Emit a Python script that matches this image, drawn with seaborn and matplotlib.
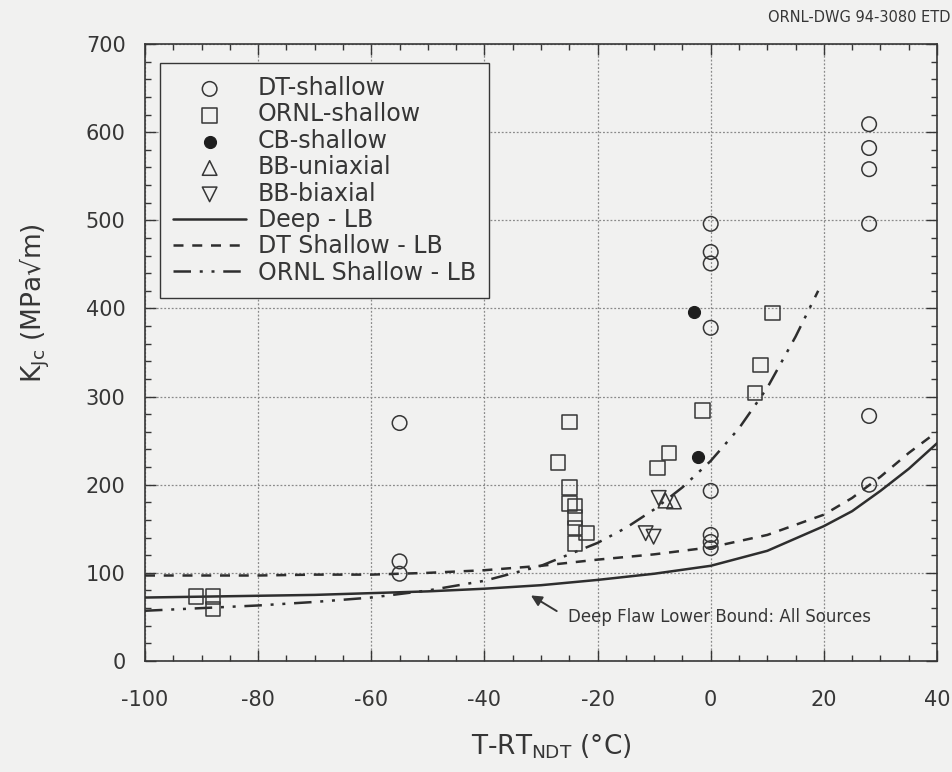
import numpy as np
import pandas as pd
import matplotlib
matplotlib.use("Agg")
import matplotlib.pyplot as plt
from matplotlib.ticker import MultipleLocator
import seaborn as sns

# ---- data: fracture toughness vs. normalized temperature ----
dt_x = [-55, -55, -55, 0, 0, 0, 0, 0, 0, 0, 0, 28, 28, 28, 28, 28, 28]
dt_y = [270, 113, 99, 496, 464, 451, 378, 193, 143, 135, 128, 609, 582, 558, 496, 278, 200]

ornl_x = [-91, -88, -88, -25, -27, -25, -25, -24, -24, -24, -22, -24, -9.4, -7.4, -1.5, 7.8, 8.8, 10.9]
ornl_y = [73, 73, 59, 271, 225, 197, 179, 176, 163, 151, 145, 133, 219, 236, 284, 304, 336, 395]

cb_x = [-3, -2.3]
cb_y = [396, 232]

bbu_x = [-8, -6.5]
bbu_y = [182, 181]

bbb_x = [-9.2, -11.5, -10.1]
bbb_y = [185, 145, 141]

# lower-bound curves
deep_x = [-100, -90, -80, -70, -60, -50, -40, -30, -20, -10, 0, 10, 20, 25, 30, 35, 40]
deep_y = [72, 73, 74, 75, 77, 79, 82, 86, 92, 99, 108, 125, 153, 170, 193, 218, 247]

dtlb_x = [-100, -90, -80, -70, -60, -50, -40, -30, -20, -10, 0, 10, 20, 25, 30, 35, 40]
dtlb_y = [97, 97, 97, 98, 98, 100, 103, 108, 115, 121, 129, 143, 166, 185, 209, 236, 260]

ornllb_x = [-100, -90, -80, -70, -60, -50, -40, -30, -20, -15, -10, -5, 0, 5, 10, 15, 19]
ornllb_y = [57, 60, 63, 67, 72, 80, 91, 108, 134, 151, 172, 197, 227, 264, 310, 368, 420]

x_ticks = [-100, -80, -60, -40, -20, 0, 20, 40]
y_ticks = [0, 100, 200, 300, 400, 500, 600, 700]

# ---- styling ----
sns.set_style("ticks")
bg = "#f1f1f0"
ink = "#363636"
plt.rcParams["font.family"] = ["DejaVu Sans"]
plt.rcParams["mathtext.default"] = "regular"
plt.rcParams["axes.unicode_minus"] = False
plt.rcParams["text.color"] = ink
plt.rcParams["axes.labelcolor"] = ink
plt.rcParams["xtick.color"] = ink
plt.rcParams["ytick.color"] = ink

fig = plt.figure(figsize=(9.53, 7.72), dpi=100, facecolor=bg)
ax = fig.add_axes([145 / 953, 1 - 661 / 772, (937 - 145) / 953, (661 - 44) / 772])
ax.set_facecolor(bg)

mk = dict(ax=ax, s=110, facecolor="none", edgecolor=ink, linewidth=1.1, zorder=4)
sns.scatterplot(x=dt_x, y=dt_y, marker="o", label="DT-shallow", **mk)
sns.scatterplot(x=ornl_x, y=ornl_y, marker="s", label="ORNL-shallow", **mk)
sns.scatterplot(x=cb_x, y=cb_y, marker="o", s=75, color="#1e1e1e", edgecolor="#1e1e1e",
                linewidth=0.8, label="CB-shallow", ax=ax, zorder=4)
sns.scatterplot(x=bbu_x, y=bbu_y, marker="^", label="BB-uniaxial", **mk)
sns.scatterplot(x=bbb_x, y=bbb_y, marker="v", label="BB-biaxial", **mk)

ln = dict(ax=ax, color="#2e2e2e", linewidth=1.8, sort=False, estimator=None,
          errorbar=None, zorder=3)
sns.lineplot(x=deep_x, y=deep_y, label="Deep - LB", linestyle="-", **ln)
sns.lineplot(x=dtlb_x, y=dtlb_y, label="DT Shallow - LB", linestyle=(0, (4, 3.5)), **ln)
sns.lineplot(x=ornllb_x, y=ornllb_y, label="ORNL Shallow - LB",
             linestyle=(0, (7, 3.5, 1.2, 3.5, 1.2, 3.5)), **ln)

# axes, ticks, grid
ax.set_xlim(-100, 40)
ax.set_ylim(0, 700)
ax.set_xticks(x_ticks)
ax.set_yticks(y_ticks)
ax.xaxis.set_minor_locator(MultipleLocator(5))
ax.yaxis.set_minor_locator(MultipleLocator(20))
ax.tick_params(which="both", direction="in", top=True, right=True, width=1.0, color=ink)
ax.tick_params(which="major", length=8, labelsize=15)
ax.tick_params(which="minor", length=4)
ax.tick_params(axis="x", which="major", pad=21)
ax.tick_params(axis="y", which="major", pad=14)
ax.grid(True, which="major", linestyle=(0, (1.5, 1.5)), color="#8a8a8a", linewidth=0.9)
ax.set_axisbelow(True)
for sp in ax.spines.values():
    sp.set_color(ink)
    sp.set_linewidth(1.2)

ax.set_xlabel("T-RT$_{NDT}$ (°C)", fontsize=19)
ax.xaxis.set_label_coords(0.513, -0.116)
ax.set_ylabel("K$_{Jc}$ (MPa√m)", fontsize=19)
ax.yaxis.set_label_coords(-0.118, 0.58)

# legend
handles, labels = ax.get_legend_handles_labels()
leg = ax.legend(handles, labels, loc="upper left", bbox_to_anchor=(0.019, 0.969),
                fontsize=17, frameon=True, fancybox=False, edgecolor=ink,
                facecolor=bg, framealpha=1, handlelength=3.1, handletextpad=0.5,
                labelspacing=0.1, borderpad=0.55, borderaxespad=0)
leg.get_frame().set_linewidth(1.0)

# annotation for the deep-flaw curve
ax.annotate("", xy=(-32.2, 76), xytext=(-26.8, 55),
            arrowprops=dict(arrowstyle="-|>", color=ink, lw=1.4, mutation_scale=16))
ax.text(-25.3, 50, "Deep Flaw Lower Bound: All Sources", fontsize=12,
        ha="left", va="center", color=ink)

fig.text(0.997, 1 - 18 / 772, "ORNL-DWG 94-3080 ETD", fontsize=10.5,
         ha="right", va="center", color=ink)

fig.savefig("out.png", dpi=100, facecolor=bg)
